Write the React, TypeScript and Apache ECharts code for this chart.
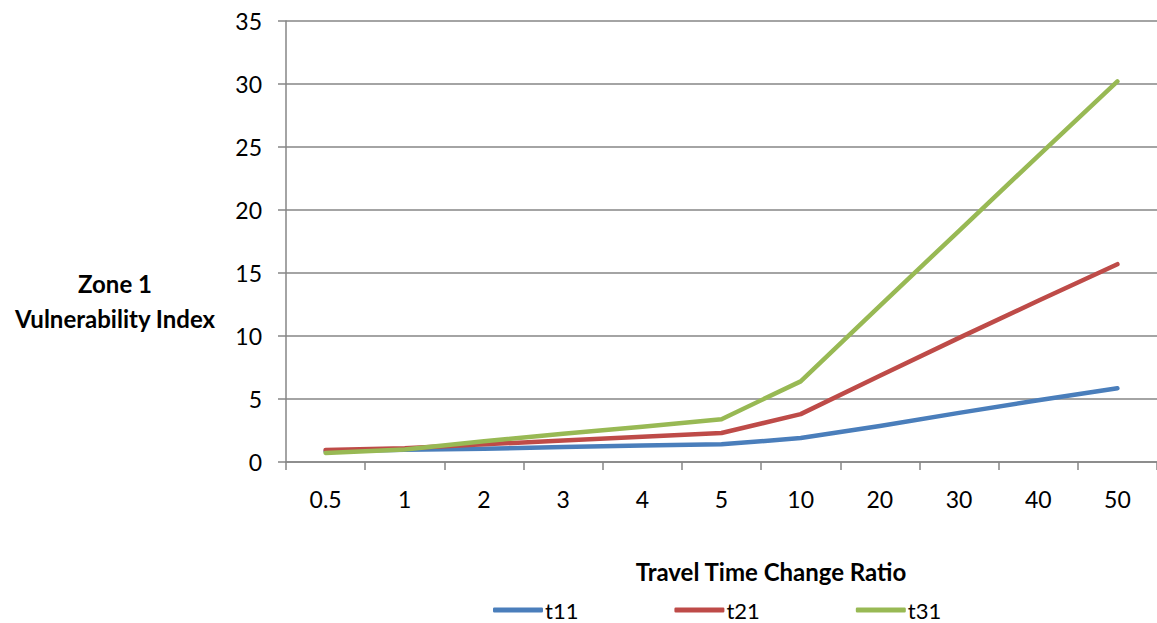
import React, { useEffect, useRef } from "react";
import * as echarts from "echarts";

const categories = ["0.5", "1", "2", "3", "4", "5", "10", "20", "30", "40", "50"];
const t11 = [0.85, 0.97, 1.05, 1.2, 1.3, 1.4, 1.9, 2.85, 3.9, 4.9, 5.85];
const t21 = [0.95, 1.1, 1.4, 1.7, 2.0, 2.3, 3.8, 6.85, 9.85, 12.8, 15.7];
const t31 = [0.72, 1.0, 1.65, 2.25, 2.8, 3.4, 6.4, 12.4, 18.35, 24.3, 30.2];
const seriesNames = ["t11", "t21", "t31"];
const colors = ["#4A7EBB", "#BE4B48", "#98B954"];

const font = "Lato, 'Open Sans', sans-serif";

export default function App() {
  const ref = useRef<HTMLDivElement>(null);

  useEffect(() => {
    if (!ref.current) return;
    const chart = echarts.init(ref.current, null, { renderer: "svg" });
    const values = [t11, t21, t31];
    chart.setOption({
      animation: false,
      textStyle: { fontFamily: font },
      grid: { left: 286, top: 21, width: 876, height: 441, containLabel: false },
      xAxis: {
        type: "category",
        data: categories,
        boundaryGap: true,
        axisLine: { lineStyle: { color: "#868686", width: 1.5 } },
        axisTick: { show: true, length: 8, lineStyle: { color: "#868686", width: 1.5 } },
        axisLabel: { color: "#000", fontSize: 23, margin: 25, fontFamily: font },
        splitLine: { show: false },
      },
      yAxis: {
        type: "value",
        min: 0,
        max: 35,
        interval: 5,
        axisLine: { show: true, lineStyle: { color: "#868686", width: 1.5 } },
        axisTick: { show: true, length: 8, lineStyle: { color: "#868686", width: 1.5 } },
        axisLabel: { color: "#000", fontSize: 23, margin: 24, fontFamily: font },
        splitLine: { show: true, lineStyle: { color: "#868686", width: 1.5 } },
      },
      legend: {
        data: seriesNames,
        left: 493,
        top: 599,
        padding: 0,
        itemWidth: 50,
        itemHeight: 5,
        itemGap: 96,
        icon: "roundRect",
        textStyle: {
          color: "#000",
          fontSize: 22,
          lineHeight: 22,
          fontFamily: font,
          padding: [0, 0, 0, -3],
        },
      },
      graphic: [
        {
          type: "text",
          x: 115,
          y: 301,
          style: {
            text: "Zone 1\nVulnerability Index",
            font: `bold 24px ${font}`,
            fill: "#000",
            align: "center",
            verticalAlign: "middle",
            lineHeight: 35,
          },
        },
        {
          type: "text",
          x: 771,
          y: 571,
          style: {
            text: "Travel Time Change Ratio",
            font: `bold 24px ${font}`,
            fill: "#000",
            align: "center",
            verticalAlign: "middle",
          },
        },
      ],
      series: seriesNames.map((name, i) => ({
        name,
        type: "line",
        data: values[i],
        symbol: "none",
        color: colors[i],
        lineStyle: { width: 4.5, color: colors[i], cap: "round", join: "round" },
      })),
    });
    return () => chart.dispose();
  }, []);

  return (
    <div
      ref={ref}
      style={{ position: "fixed", left: 0, top: 0, width: 1157, height: 623, background: "#fff" }}
    />
  );
}
